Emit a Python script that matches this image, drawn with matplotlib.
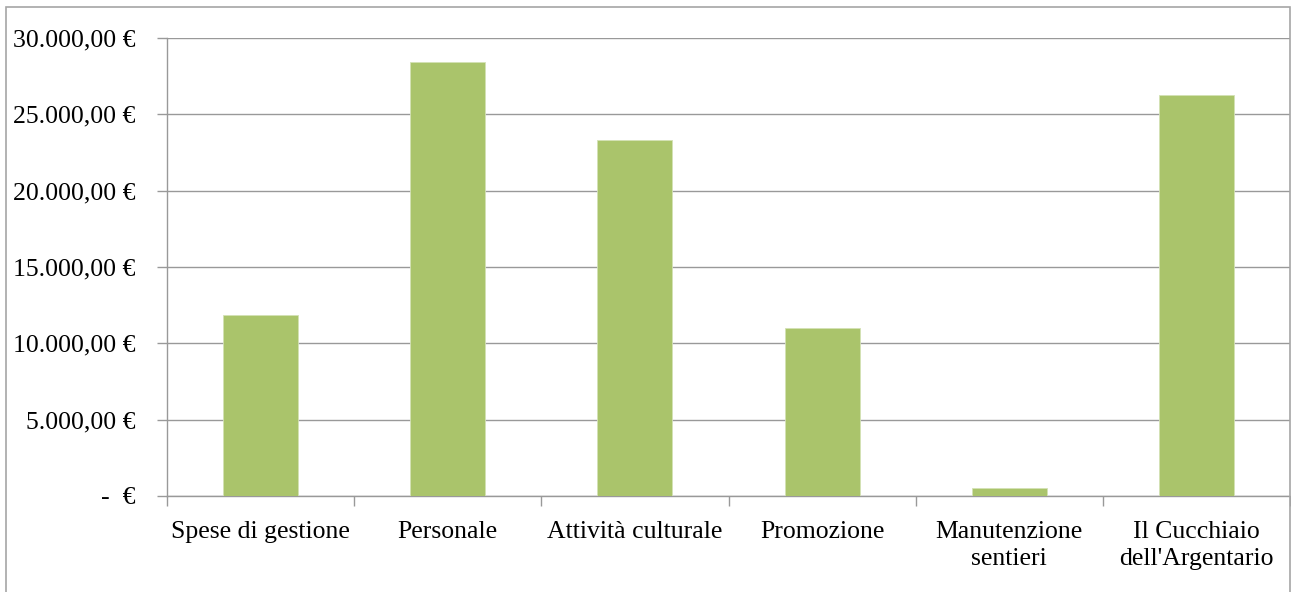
import matplotlib
matplotlib.use("Agg")
import matplotlib.pyplot as plt
from matplotlib.patches import Rectangle
from matplotlib.ticker import FuncFormatter

categories = ["Spese di gestione", "Personale", "Attività culturale", "Promozione",
              "Manutenzione\nsentieri", "Il Cucchiaio\ndell'Argentario"]
values = [11850, 28450, 23320, 11000, 520, 26280]
yticks = [0, 5000, 10000, 15000, 20000, 25000, 30000]

plt.rcParams['font.family'] = ['Liberation Serif', 'DejaVu Serif']
plt.rcParams['font.size'] = 18.5

W, H = 1291, 592
fig = plt.figure(figsize=(W / 100, H / 100), dpi=100)
fig.patch.set_facecolor('white')

# outer chart border
fig.patches.append(Rectangle((6 / W, -0.05), (1290 - 6) / W, (H - 7) / H + 0.05,
                             transform=fig.transFigure, fill=False,
                             edgecolor='#a6a6a6', linewidth=1.2))

left, right, top, bottom = 167, 1290, 38, 496
ax = fig.add_axes([left / W, (H - bottom) / H, (right - left) / W, (bottom - top) / H])

x = list(range(len(categories)))
ax.bar(x, values, width=0.4, color='#AAC46B', edgecolor='#d3e1b5', linewidth=0.6, zorder=3)

ax.set_xlim(-0.5, len(categories) - 0.5)
ax.set_ylim(0, 30000)

def fmt(v, pos):
    if v == 0:
        return "-  €"
    s = f"{v:,.2f}".replace(",", "X").replace(".", ",").replace("X", ".")
    return s + " €"

ax.set_yticks(yticks)
ax.yaxis.set_major_formatter(FuncFormatter(fmt))
ax.grid(axis='y', color='#999999', linewidth=1.0, zorder=0)

ax.set_xticks([i - 0.5 for i in range(len(categories) + 1)])
ax.set_xticklabels([])
ax.set_xticks(x, minor=True)
ax.set_xticklabels(categories, minor=True, linespacing=1.28)
ax.tick_params(axis='x', which='minor', length=0, pad=18)
ax.tick_params(axis='x', which='major', length=7, color='#999999', width=1.0)
ax.tick_params(axis='y', length=7, color='#999999', width=1.0, pad=15.5)

for s in ['top', 'right']:
    ax.spines[s].set_visible(False)
for s in ['left', 'bottom']:
    ax.spines[s].set_color('#999999')
    ax.spines[s].set_linewidth(1.0)

fig.savefig("out.png", dpi=100)
